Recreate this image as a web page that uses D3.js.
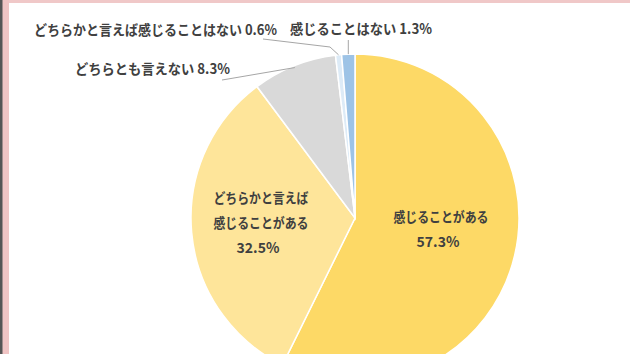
<!DOCTYPE html>
<html><head><meta charset="utf-8">
<script src="https://cdn.jsdelivr.net/npm/d3@7"></script>
<style>
html,body{margin:0;padding:0;background:#fff;}
svg{display:block;}
text{font-family:"Noto Sans CJK JP","Noto Sans",sans-serif;font-weight:700;fill:#404040;}
</style></head>
<body>
<svg id="c" width="630" height="354"></svg>
<script>
const categories = ["感じることがある","どちらかと言えば感じることがある","どちらとも言えない","どちらかと言えば感じることはない","感じることはない"];
const values = [57.3, 32.5, 8.3, 0.6, 1.3];
const valueLabels = ["57.3%","32.5%","8.3%","0.6%","1.3%"];
const colors = ["#FDD966","#FEE59A","#D9D9D9","#DDEBF7","#9DC3E6"];

const svg = d3.select("#c");
// frame
svg.append("rect").attr("x",0).attr("y",0).attr("width",630).attr("height",354).attr("fill","#fff");
svg.append("rect").attr("x",0).attr("y",0).attr("width",630).attr("height",3).attr("fill","#F0C8C8");
svg.append("rect").attr("x",2).attr("y",0).attr("width",7).attr("height",354).attr("fill","#F0C4C4");
svg.append("rect").attr("x",0).attr("y",0).attr("width",2.5).attr("height",354).attr("fill","#555");

const cx = 355, cy = 218, R = 164;
const pie = d3.pie().sort(null).value(d=>d)(values);
const arc = d3.arc().innerRadius(0).outerRadius(R);
const g = svg.append("g").attr("transform",`translate(${cx},${cy})`);
g.selectAll("path").data(pie).join("path")
  .attr("d",arc).attr("fill",(d,i)=>colors[i])
  .attr("stroke","#fff").attr("stroke-width",1.5);

function pt(a, r){ return [cx + r*Math.sin(a), cy - r*Math.cos(a)]; }
const mid = d => (d.startAngle + d.endAngle)/2;

// inner labels
svg.append("text").attr("x",441).attr("y",222).attr("text-anchor","middle").attr("font-size",14)
  .attr("textLength",95).attr("lengthAdjust","spacingAndGlyphs").text(categories[0]);
svg.append("text").attr("x",438).attr("y",247).attr("text-anchor","middle").attr("font-size",14).text(valueLabels[0]);

svg.append("text").attr("x",261).attr("y",203).attr("text-anchor","middle").attr("font-size",14)
  .attr("textLength",95).attr("lengthAdjust","spacingAndGlyphs").text("どちらかと言えば");
svg.append("text").attr("x",261).attr("y",228).attr("text-anchor","middle").attr("font-size",14)
  .attr("textLength",95).attr("lengthAdjust","spacingAndGlyphs").text("感じることがある");
svg.append("text").attr("x",258).attr("y",253).attr("text-anchor","middle").attr("font-size",14).text(valueLabels[1]);

// outer labels
function outer(x, y, w, cat, val){
  svg.append("text").attr("x",x).attr("y",y).attr("font-size",14)
    .attr("textLength",w).attr("lengthAdjust","spacingAndGlyphs")
    .text(cat + " " + val);
}
outer(34, 35, 243, categories[3], valueLabels[3]);
outer(290, 34, 142, categories[4], valueLabels[4]);
outer(75, 74, 155, categories[2], valueLabels[2]);

// leader lines
const lc = "#A6A6A6";
const p3 = pt(mid(pie[3]), R);
svg.append("polyline").attr("points",`263,39 330,47 ${p3[0]},${p3[1]}`).attr("fill","none").attr("stroke",lc).attr("stroke-width",1);
const p4 = pt(mid(pie[4]), R);
svg.append("line").attr("x1",p4[0]).attr("y1",40).attr("x2",p4[0]).attr("y2",p4[1]).attr("stroke",lc).attr("stroke-width",1);
const p2 = pt(mid(pie[2]), R-2);
svg.append("polyline").attr("points",`222,80 228,79 ${p2[0]},${p2[1]}`).attr("fill","none").attr("stroke",lc).attr("stroke-width",1);
</script>
</body></html>
